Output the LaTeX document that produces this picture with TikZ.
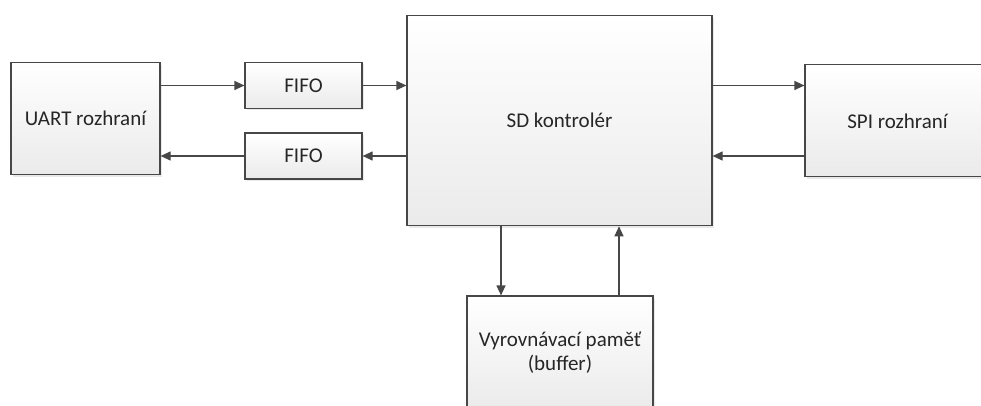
\documentclass[tikz,border=0pt]{standalone}
\usepackage{fontspec}
\setmainfont{Carlito}
\usetikzlibrary{arrows.meta,shadows}
\definecolor{edge}{HTML}{474747}
\tikzset{
 blk/.style={draw=edge, line width=1.2pt, top color=white, bottom color=black!8,
   text=black!85, font=\fontsize{21}{24}\selectfont, inner sep=0pt, align=center,
   drop shadow={shadow xshift=2pt, shadow yshift=-2pt, fill=black!12, opacity=0.7}},
 conn/.style={draw=edge, line width=1.2pt, -{Triangle[length=10pt,width=9pt]}}
}
\begin{document}
\begin{tikzpicture}[x=1pt,y=-1pt]
\useasboundingbox (0,0) rectangle (981,406);
\clip (0,0) rectangle (981,406);
\node[blk, minimum width=149pt, minimum height=112pt] (uart) at (85.5,118.7) {UART rozhraní};
\node[blk, minimum width=117pt, minimum height=46pt] (fifo1) at (303.5,85.5) {FIFO};
\node[blk, minimum width=117pt, minimum height=46pt] (fifo2) at (303.5,156) {FIFO};
\node[blk, minimum width=305pt, minimum height=210pt] (sd) at (559.5,120.7) {SD kontrolér};
\node[blk, minimum width=185pt, minimum height=112pt] (spi) at (897.5,120.8) {SPI rozhraní};
\node[blk, minimum width=186pt, minimum height=114pt] (buf) at (560,353) {Vyrovnávací paměť\\(buffer)};
\draw[conn] (uart.east |- fifo1.west) -- (fifo1.west);
\draw[conn] (fifo1.east) -- (fifo1.east -| sd.west);
\draw[conn] (sd.west |- fifo2.east) -- (fifo2.east);
\draw[conn] (fifo2.west) -- (fifo2.west -| uart.east);
\draw[conn] (sd.east |- fifo1.east) -- (spi.west |- fifo1.east);
\draw[conn] (spi.west |- fifo2.east) -- (sd.east |- fifo2.east);
\draw[conn] ([xshift=-59pt]buf.north |- sd.south) -- ([xshift=-59pt]buf.north);
\draw[conn] ([xshift=59pt]buf.north) -- ([xshift=59pt]buf.north |- sd.south);
\end{tikzpicture}
\end{document}
